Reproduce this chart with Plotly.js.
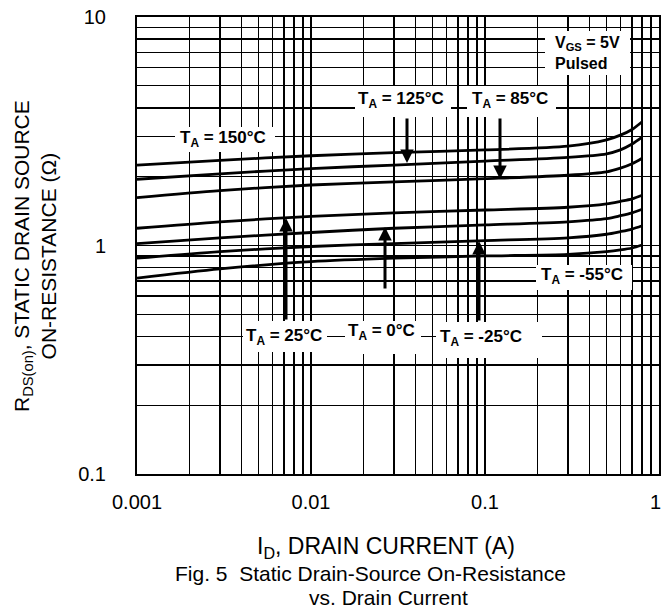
<!DOCTYPE html>
<html><head><meta charset="utf-8">
<script src="https://cdn.plot.ly/plotly-3.0.1.min.js"></script>
<style>html,body{margin:0;padding:0;background:#fff}#chart{width:663px;height:609px}</style>
</head><body><div id="chart"></div>
<script>
// Drain current (A)
const currentA = [0.001, 0.003, 0.01, 0.03, 0.1, 0.3, 0.5, 0.6, 0.7, 0.8];
// R_DS(on) (ohm) per ambient temperature
const r150 = [2.25, 2.36, 2.47, 2.55, 2.62, 2.72, 2.90, 3.04, 3.22, 3.48];
const r125 = [1.95, 2.06, 2.17, 2.25, 2.34, 2.43, 2.52, 2.62, 2.78, 2.98];
const r85  = [1.62, 1.74, 1.84, 1.90, 1.96, 2.03, 2.10, 2.18, 2.28, 2.41];
const r25  = [1.19, 1.27, 1.34, 1.39, 1.43, 1.47, 1.52, 1.56, 1.60, 1.66];
const r0   = [1.02, 1.08, 1.14, 1.19, 1.23, 1.27, 1.31, 1.35, 1.39, 1.44];
const rm25 = [0.88, 0.94, 0.99, 1.02, 1.05, 1.08, 1.12, 1.15, 1.18, 1.22];
const rm55 = [0.72, 0.79, 0.85, 0.88, 0.90, 0.915, 0.94, 0.956, 0.975, 1.005];
const seriesNames = ["150°C", "125°C", "85°C", "25°C", "0°C", "-25°C", "-55°C"];
const seriesVals = [r150, r125, r85, r25, r0, rm25, rm55];

// tick labels
const xDecades = [0.001, 0.01, 0.1, 1];
const xDecadeText = ["0.001", "0.01", "0.1", "1"];
const yDecades = [0.1, 1, 10];
const yDecadeText = ["0.1", "1", "10"];

function minorVals(decades) {
  const v = [];
  for (let i = 0; i < decades.length - 1; i++)
    for (let m = 2; m <= 9; m++) v.push(+(m * decades[i]).toPrecision(3));
  return v;
}

const FONT = "Liberation Sans, Arial, Helvetica, sans-serif";
const L = 137, R = 659, T = 17, B = 474;
const px = x => (x - L) / (R - L);
const py = y => (B - y) / (B - T);

const traces = seriesVals.map((v, i) => ({
  x: currentA, y: v, type: "scatter", mode: "lines", name: seriesNames[i],
  line: {color: "#000", width: 2.8, shape: "spline", smoothing: 0.8},
  hoverinfo: "skip"
}));

const boxes = [
  [545, 31, 630, 75],
  [175, 127, 275, 152],
  [355, 86, 451, 117],
  [467, 86, 556, 117],
  [536, 265, 632, 290],
  [243, 321, 327, 352],
  [345, 321, 421, 354],
  [436, 322, 542, 358]
];
const shapes = boxes.map(b => ({
  type: "rect", xref: "paper", yref: "paper", layer: "above",
  x0: px(b[0]), x1: px(b[2]), y0: py(b[3]), y1: py(b[1]),
  fillcolor: "#fff", line: {width: 0}
}));

const lblFont = {family: FONT, size: 17, color: "#000"};
const labels = [
  ["T<sub>A</sub> = 150°C", 223, 139],
  ["T<sub>A</sub> = 125°C", 401, 100],
  ["T<sub>A</sub> = 85°C", 510, 100],
  ["T<sub>A</sub> = -55°C", 582, 276],
  ["T<sub>A</sub> = 25°C", 284, 337],
  ["T<sub>A</sub> = 0°C", 381, 332],
  ["T<sub>A</sub> = -25°C", 481, 338]
];
const annotations = labels.map(l => ({
  text: "<b>" + l[0] + "</b>", xref: "paper", yref: "paper", x: px(l[1]), y: py(l[2]),
  xanchor: "center", yanchor: "middle", showarrow: false, font: lblFont
}));
annotations.push({
  text: "<b>V<sub>GS</sub> = 5V<br>Pulsed</b>", xref: "paper", yref: "paper",
  x: px(553), y: py(53), xanchor: "left", yanchor: "middle", align: "left",
  showarrow: false, font: {family: FONT, size: 16, color: "#000"}
});
const arrows = [
  [407, 163, 407, 117],
  [500, 179, 500, 117],
  [286, 218, 286, 321],
  [385, 227, 385, 290],
  [479, 241, 479, 322]
];
arrows.forEach(a => annotations.push({
  text: "", xref: "paper", yref: "paper", x: px(a[0]), y: py(a[1]),
  ax: a[2] - a[0], ay: a[3] - a[1], axref: "pixel", ayref: "pixel",
  showarrow: true, arrowhead: 2, arrowsize: 0.9, arrowwidth: 3, arrowcolor: "#000", standoff: 0
}));
// last x decade label, kept inside the page at the right edge
annotations.push({
  text: xDecadeText[xDecadeText.length - 1], xref: "paper", yref: "paper",
  x: px(663), y: py(502), xanchor: "right", yanchor: "middle", showarrow: false,
  font: {family: FONT, size: 20, color: "#000"}
});
annotations.push({
  text: "R<sub>DS(on)</sub>, STATIC DRAIN SOURCE<br>ON-RESISTANCE (Ω)", textangle: -90,
  xref: "paper", yref: "paper", x: px(35), y: py(256), xanchor: "center", yanchor: "middle",
  showarrow: false, font: {family: FONT, size: 21, color: "#000"}
});
annotations.push({
  text: "I<sub>D</sub>, DRAIN CURRENT (A)", xref: "paper", yref: "paper",
  x: px(386), y: py(547), xanchor: "center", yanchor: "middle",
  showarrow: false, font: {family: FONT, size: 23, color: "#000"}
});
annotations.push({
  text: "Fig. 5 \u00a0Static Drain-Source On-Resistance", xref: "paper", yref: "paper",
  x: px(370), y: py(573.5), xanchor: "center", yanchor: "middle", borderpad: 0,
  showarrow: false, font: {family: FONT, size: 21, color: "#000"}
});
annotations.push({
  text: "vs. Drain Current", xref: "paper", yref: "paper",
  x: px(388), y: py(597), xanchor: "center", yanchor: "middle", borderpad: 0,
  showarrow: false, font: {family: FONT, size: 21, color: "#000"}
});

const axisCommon = {
  type: "log", tickmode: "array", showgrid: true, gridcolor: "#000", gridwidth: 1.4,
  showline: true, linecolor: "#000", linewidth: 2, mirror: true, ticks: "",
  zeroline: false, tickfont: {family: FONT, size: 20, color: "#000"}, fixedrange: true
};
const layout = {
  width: 663, height: 609,
  margin: {l: L, r: 663 - R, t: T, b: 609 - B},
  paper_bgcolor: "#fff", plot_bgcolor: "#fff", showlegend: false,
  font: {family: FONT, color: "#000"},
  xaxis: Object.assign({}, axisCommon, {range: [-3, 0],
    tickvals: xDecades.slice(0, -1), ticktext: xDecadeText.slice(0, -1), ticklabelstandoff: 9,
    minor: {tickmode: "array", tickvals: minorVals(xDecades), showgrid: true,
      gridcolor: "#000", gridwidth: 1.4, ticks: ""}}),
  yaxis: Object.assign({}, axisCommon, {range: [-1, 1],
    tickvals: yDecades, ticktext: yDecadeText, ticklabelstandoff: 25,
    minor: {tickmode: "array", tickvals: minorVals(yDecades), showgrid: true,
      gridcolor: "#000", gridwidth: 1.4, ticks: ""}}),
  shapes: shapes,
  annotations: annotations
};
Plotly.newPlot("chart", traces, layout, {staticPlot: true, displayModeBar: false});
</script>
</body></html>
